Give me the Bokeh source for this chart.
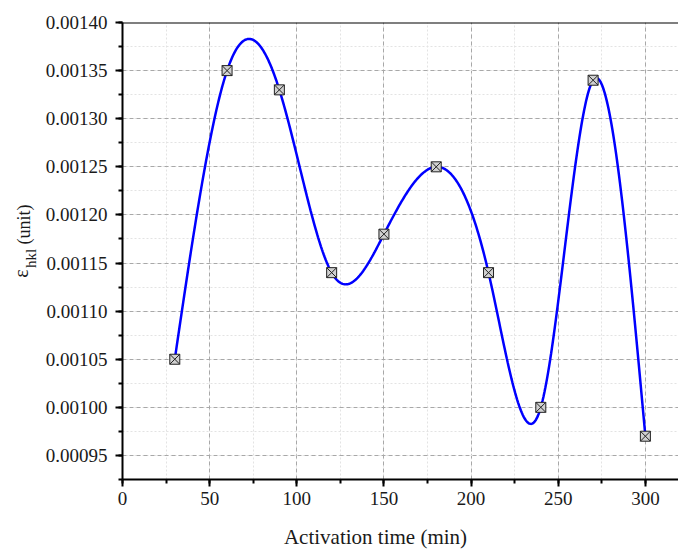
import numpy as np
from bokeh.plotting import figure
from bokeh.layouts import row, column
from bokeh.models import SingleIntervalTicker, PrintfTickFormatter, Span, Label, Range1d
from bokeh.embed import file_html
from bokeh.resources import INLINE

# ---- data ----
time_min = [30, 60, 90, 120, 150, 180, 210, 240, 270, 300]
strain = [0.00105, 0.00135, 0.00133, 0.00114, 0.00118, 0.00125, 0.00114, 0.00100, 0.00134, 0.00097]
x_label_text = "Activation time (min)"
y_label_main = "\u03b5"
y_label_sub = "hkl"
y_label_unit = "(unit)"


def natural_spline(x, y, n=500):
    x = np.asarray(x, float)
    y = np.asarray(y, float)
    h = np.diff(x)
    nn = len(x)
    A = np.zeros((nn, nn))
    b = np.zeros(nn)
    A[0, 0] = 1
    A[-1, -1] = 1
    for i in range(1, nn - 1):
        A[i, i - 1] = h[i - 1]
        A[i, i] = 2 * (h[i - 1] + h[i])
        A[i, i + 1] = h[i]
        b[i] = 3 * ((y[i + 1] - y[i]) / h[i] - (y[i] - y[i - 1]) / h[i - 1])
    c = np.linalg.solve(A, b)
    xs = np.linspace(x[0], x[-1], n)
    idx = np.clip(np.searchsorted(x, xs) - 1, 0, nn - 2)
    dx = xs - x[idx]
    bc = (y[1:] - y[:-1]) / h - h * (2 * c[:-1] + c[1:]) / 3
    d = (c[1:] - c[:-1]) / (3 * h)
    ys = y[idx] + bc[idx] * dx + c[idx] * dx ** 2 + d[idx] * dx ** 3
    return xs, ys


xs, ys = natural_spline(time_min, strain)

FONT = "Liberation Serif"
TXT = "#1a1a1a"
W, H = 678, 550
LW = 42            # strip holding the y-axis title
XH = 35            # strip holding the x-axis title
BL, BT = 122, 22   # page position of the frame's left / top edge
FB = 479           # page position of the frame's bottom edge
HP = H - XH        # main plot height

# ---- main plot ----
p = figure(width=W - LW, height=HP, output_backend="svg", toolbar_location=None,
           x_range=Range1d(0, 319), y_range=Range1d(0.000925, 0.00140),
           min_border_left=BL - LW, min_border_right=0, min_border_top=BT,
           min_border_bottom=HP - FB)
p.outline_line_color = None
p.background_fill_color = "white"
p.border_fill_color = "white"

p.xaxis.ticker = SingleIntervalTicker(interval=50, num_minor_ticks=2)
p.yaxis.ticker = SingleIntervalTicker(interval=0.00005, num_minor_ticks=2)
p.yaxis.formatter = PrintfTickFormatter(format="%.5f")

for ax in (p.xaxis, p.yaxis):
    ax.axis_line_color = "black"
    ax.axis_line_width = 2
    ax.major_tick_line_color = "black"
    ax.major_tick_line_width = 2
    ax.minor_tick_line_color = "black"
    ax.minor_tick_line_width = 2
    ax.major_tick_in = 0
    ax.major_tick_out = 7
    ax.minor_tick_in = 0
    ax.minor_tick_out = 4
    ax.major_label_text_font = FONT
    ax.major_label_text_font_size = "19px"
    ax.major_label_text_color = TXT
    ax.axis_label = None
p.xaxis.major_label_standoff = 5
p.yaxis.major_label_standoff = 8

for g in (p.xgrid, p.ygrid):
    g.grid_line_color = "#a8a8a8"
    g.grid_line_dash = "4 3"
    g.grid_line_width = 1
    g.minor_grid_line_color = "#e3e3e3"
    g.minor_grid_line_dash = "2 2"
    g.minor_grid_line_width = 1

p.add_layout(Span(location=0.00140, dimension="width", line_color="black", line_width=2))

p.line(xs, ys, line_color="#0000ff", line_width=2.5)
p.scatter(time_min, strain, marker="square_x", size=10, fill_color="#d0d0d0",
          line_color="#222222", line_width=1)


def text_strip(w, h, xr, yr, **borders):
    f = figure(width=w, height=h, output_backend="svg", toolbar_location=None,
               x_range=Range1d(*xr), y_range=Range1d(*yr),
               x_axis_type=None, y_axis_type=None, **borders)
    f.outline_line_color = None
    f.background_fill_color = "white"
    f.border_fill_color = "white"
    return f


# ---- x-axis title strip: frame spans page x 122..678, so x is a page position ----
xlab = text_strip(W - LW, XH, (BL, W), (0, XH),
                  min_border_left=BL - LW, min_border_right=0,
                  min_border_top=0, min_border_bottom=0)
xlab.add_layout(Label(x=375, y=XH - (536 - HP), text=x_label_text,
                      text_font=FONT, text_font_size="21px", text_color=TXT,
                      text_align="center", text_baseline="middle"))

# ---- y-axis title strip: frame spans page y 22..479, y = H - page y ----
lab = text_strip(LW, H, (0, LW), (H - FB, H - BT),
                 min_border_left=0, min_border_right=0,
                 min_border_top=BT, min_border_bottom=H - FB)
common = dict(angle=np.pi / 2, text_color=TXT, text_font=FONT,
              text_align="center", text_baseline="middle")
lab.add_layout(Label(x=20, y=H - 273, text=y_label_main, text_font_size="20px", **common))
lab.add_layout(Label(x=30, y=H - 258, text=y_label_sub, text_font_size="15px", **common))
lab.add_layout(Label(x=23, y=H - 224, text=y_label_unit, text_font_size="18px", **common))

layout = row(lab, column(p, xlab, spacing=0), spacing=0)
open("out.html", "w").write(file_html(layout, INLINE))
